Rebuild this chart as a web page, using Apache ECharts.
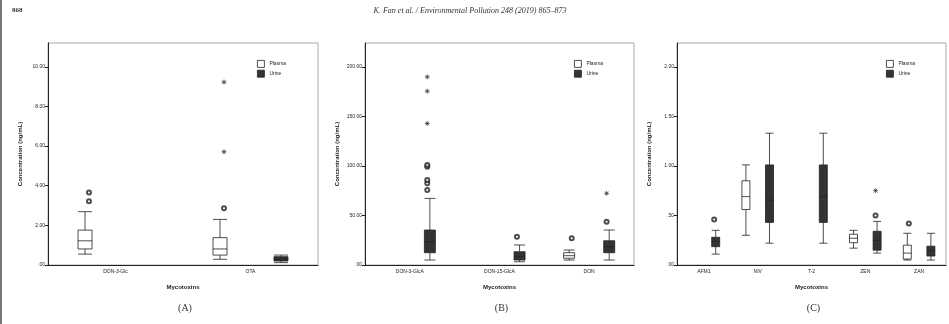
<!DOCTYPE html>
<html>
<head>
<meta charset="utf-8">
<title>Mycotoxins in plasma and urine</title>
<script src="https://cdn.jsdelivr.net/npm/echarts@6/dist/echarts.min.js"></script>
<style>
html, body { margin: 0; padding: 0; background: #fff; }
#chart { width: 949px; height: 324px; }
</style>
</head>
<body>
<div id="chart"></div>
<script>
// box stats are [min, Q1, median, Q3, max], '-' where no box was drawn
var none = ['-', '-', '-', '-', '-'];

// (A)
var catsA = ['DON-3-Glc', 'OTA'];
var plasmaA = [[0.55, 0.81, 1.22, 1.76, 2.69], [0.29, 0.50, 0.81, 1.38, 2.30]];
var urineA = [none, [0.12, 0.20, 0.30, 0.42, 0.50]];
var plasmaOutA = [[0, 3.22], [0, 3.66], [1, 2.86]];
var plasmaExtA = [[1, 5.71], [1, 9.23]];
var urineOutA = [];
var urineExtA = [];
var tickValsA = [0, 2, 4, 6, 8, 10];
var tickTextA = ['.00', '2.00', '4.00', '6.00', '8.00', '10.00'];

// (B)
var catsB = ['DON-3-GlcA', 'DON-15-GlcA', 'DON'];
var plasmaB = [none, none, [5.0, 6.8, 9.4, 12.4, 15.1]];
var urineB = [[5.0, 12.4, 23.5, 35.3, 67.2], [3.3, 5.0, 8.4, 13.4, 20.2], [5.0, 12.4, 18.4, 24.5, 35.3]];
var plasmaOutB = [[2, 26.9]];
var plasmaExtB = [];
var urineOutB = [[0, 75.6], [0, 82.4], [0, 85.7], [0, 99.1], [0, 100.8], [1, 28.6], [2, 43.7]];
var urineExtB = [[0, 142.8], [0, 175.4], [0, 189.8], [2, 72.3]];
var tickValsB = [0, 50, 100, 150, 200];
var tickTextB = ['.00', '50.00', '100.00', '150.00', '200.00'];

// (C)
var catsC = ['AFM1', 'NIV', 'T-2', 'ZEN', 'ZAN'];
var plasmaC = [none, [0.30, 0.56, 0.69, 0.85, 1.01], none, [0.17, 0.225, 0.27, 0.31, 0.35], [0.05, 0.06, 0.12, 0.20, 0.32]];
var urineC = [[0.11, 0.185, 0.235, 0.28, 0.35], [0.22, 0.43, 0.655, 1.01, 1.33], [0.22, 0.43, 0.69, 1.01, 1.33], [0.12, 0.15, 0.25, 0.34, 0.44], [0.05, 0.09, 0.144, 0.19, 0.32]];
var plasmaOutC = [[4, 0.42]];
var plasmaExtC = [];
var urineOutC = [[0, 0.46], [3, 0.50]];
var urineExtC = [[3, 0.75]];
var tickValsC = [0, 0.5, 1, 1.5, 2];
var tickTextC = ['.00', '.50', '1.00', '1.50', '2.00'];

var seriesNames = ['Plasma', 'Urine'];

var panels = [
	{ left: 48, width: 270, max: 11.2, step: 2, box: 14, cats: catsA, plasma: plasmaA, urine: urineA,
	  pOut: plasmaOutA, pExt: plasmaExtA, uOut: urineOutA, uExt: urineExtA, tv: tickValsA, tt: tickTextA, label: '(A)' },
	{ left: 365, width: 269, max: 224, step: 50, box: 11, cats: catsB, plasma: plasmaB, urine: urineB,
	  pOut: plasmaOutB, pExt: plasmaExtB, uOut: urineOutB, uExt: urineExtB, tv: tickValsB, tt: tickTextB, label: '(B)' },
	{ left: 677, width: 269, max: 2.24, step: 0.5, box: 8, cats: catsC, plasma: plasmaC, urine: urineC,
	  pOut: plasmaOutC, pExt: plasmaExtC, uOut: urineOutC, uExt: urineExtC, tv: tickValsC, tt: tickTextC, label: '(C)' }
];

var star = 'path://M5 0L5 10M0 5L10 5M1.5 1.5L8.5 8.5M8.5 1.5L1.5 8.5';
var ink = '#222';
var font = 'Liberation Sans';
var boxStyles = [
	{ color: '#fff', borderColor: ink, borderWidth: 0.8 },
	{ color: '#333', borderColor: ink, borderWidth: 0.8 }
];

var grids = [], xAxes = [], yAxes = [], legends = [], series = [], graphics = [];

graphics.push({ type: 'line', shape: { x1: 1, y1: 0, x2: 1, y2: 324 }, style: { stroke: '#777', lineWidth: 2 } });
graphics.push({ type: 'text', left: 12, top: 7, style: { text: '868', font: 'bold 7px Liberation Serif', fill: '#333' } });
graphics.push({ type: 'text', x: 470, y: 7, style: { text: 'K. Fan et al. / Environmental Pollution 248 (2019) 865\u2013873',
	font: 'italic 8px Liberation Serif', fill: '#333', textAlign: 'center' } });

panels.forEach(function(p, i) {
	grids.push({ left: p.left, top: 43, width: p.width, height: 222, show: true,
		borderColor: '#aaa', borderWidth: 1, backgroundColor: 'transparent', containLabel: false });
	xAxes.push({
		gridIndex: i, type: 'category', data: p.cats,
		name: 'Mycotoxins', nameLocation: 'middle', nameGap: 19,
		nameTextStyle: { fontSize: 6, fontWeight: 'bold', color: ink, fontFamily: font },
		axisLine: { lineStyle: { color: ink, width: 1 } },
		axisTick: { alignWithLabel: true, length: 3, lineStyle: { color: ink } },
		axisLabel: { fontSize: 5, color: ink, margin: 4, fontFamily: font },
		splitLine: { show: false }
	});
	yAxes.push({
		gridIndex: i, type: 'value', min: 0, max: p.max, interval: p.step,
		name: 'Concentration (ng/mL)', nameLocation: 'middle', nameGap: 25, nameRotate: 90,
		nameTextStyle: { fontSize: 6, fontWeight: 'bold', color: ink, fontFamily: font },
		axisLine: { show: true, lineStyle: { color: ink, width: 1 } },
		axisTick: { show: true, length: 3, lineStyle: { color: ink } },
		axisLabel: { fontSize: 5, color: ink, margin: 3, fontFamily: font, showMaxLabel: false,
			formatter: function(v) {
				for (var k = 0; k < p.tv.length; k++) {
					if (Math.abs(p.tv[k] - v) < 1e-6) return p.tt[k];
				}
				return '';
			} },
		splitLine: { show: false }
	});
	legends.push({
		data: seriesNames.map(function(n, s) { return { name: n, itemStyle: boxStyles[s] }; }),
		orient: 'vertical', left: p.left + 204, top: 55,
		itemWidth: 7, itemHeight: 7, itemGap: 2, icon: 'rect',
		textStyle: { fontSize: 5, color: ink, fontFamily: font }
	});
	graphics.push({ type: 'text', x: p.left + p.width / 2 + 2, y: 303,
		style: { text: p.label, font: '10px Liberation Serif', fill: '#333', textAlign: 'center' } });

	// same side-by-side offset that the boxplot layout uses for two series
	var band = p.width / p.cats.length;
	var off = (band * 0.8 - 2) / 4;
	[p.plasma, p.urine].forEach(function(d, s) {
		series.push({
			name: seriesNames[s], type: 'boxplot', xAxisIndex: i, yAxisIndex: i,
			boxWidth: [p.box, p.box], itemStyle: boxStyles[s],
			emphasis: { disabled: true }, data: d
		});
	});
	var outs = [[p.pOut, p.pExt, -off], [p.uOut, p.uExt, off]];
	outs.forEach(function(o) {
		series.push({
			type: 'scatter', xAxisIndex: i, yAxisIndex: i, symbol: 'emptyCircle', symbolSize: 4,
			symbolOffset: [o[2], 0], itemStyle: { color: ink, borderWidth: 0.8 }, data: o[0]
		});
		series.push({
			type: 'scatter', xAxisIndex: i, yAxisIndex: i, symbol: star, symbolSize: 5,
			symbolOffset: [o[2], 0], itemStyle: { color: 'transparent', borderColor: ink, borderWidth: 0.8 }, data: o[1]
		});
	});
});

var myChart = echarts.init(document.getElementById('chart'));
myChart.setOption({
	animation: false,
	backgroundColor: '#fff',
	grid: grids,
	xAxis: xAxes,
	yAxis: yAxes,
	legend: legends,
	tooltip: { show: false },
	graphic: graphics,
	series: series
});
</script>
</body>
</html>
